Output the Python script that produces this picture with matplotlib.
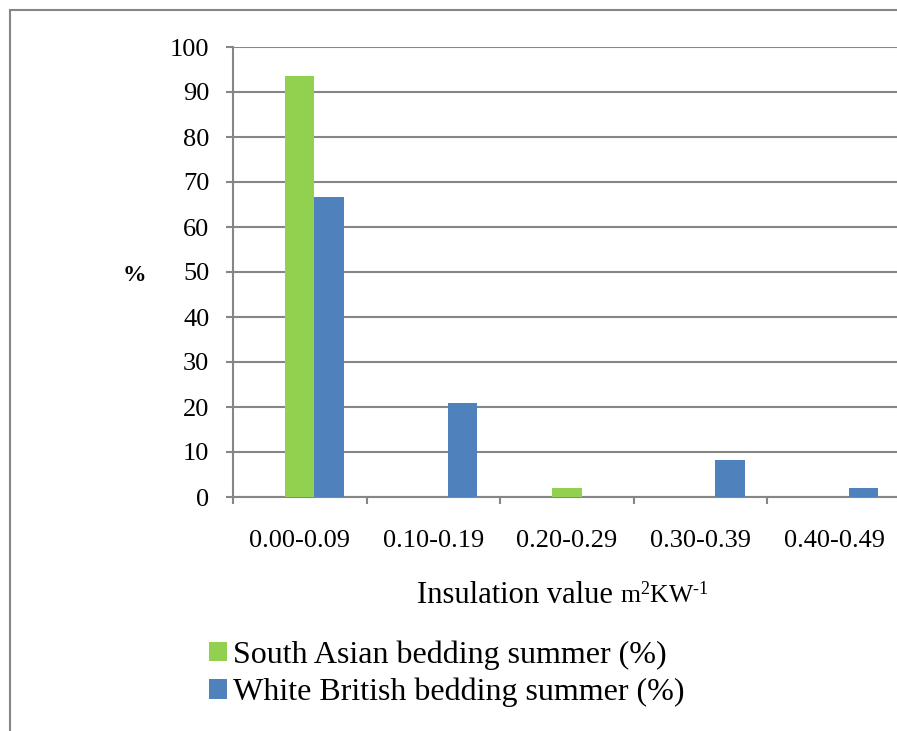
import matplotlib
matplotlib.use('Agg')
import matplotlib.pyplot as plt
from matplotlib.patches import Rectangle, Patch
import numpy as np

categories = ['0.00-0.09', '0.10-0.19', '0.20-0.29', '0.30-0.39', '0.40-0.49']
south_asian = [93.6, 0, 2.0, 0, 0]
white_british = [66.7, 20.8, 0, 8.3, 2.1]
series_names = ['South Asian bedding summer (%)', 'White British bedding summer (%)']
y_ticks = list(range(0, 101, 10))

green = '#92D050'
blue = '#4F81BD'
grey = '#868686'

plt.rcParams['font.family'] = ['Liberation Serif', 'DejaVu Serif']
plt.rcParams['mathtext.fontset'] = 'custom'
plt.rcParams['mathtext.rm'] = 'Liberation Serif'
plt.rcParams['mathtext.it'] = 'Liberation Serif:italic'

W, H = 897, 731
fig = plt.figure(figsize=(W / 100, H / 100), dpi=100)

# outer frame of the chart area (runs off the right / bottom of the image)
fig.patches.append(Rectangle((10 / W, -0.1), 1.2, 1 - 10 / H + 0.1, transform=fig.transFigure,
                             fill=False, edgecolor=grey, linewidth=1.5))

ax = fig.add_axes([233 / W, 1 - 497 / H, (901 - 233) / W, 450 / H])
x = np.arange(len(categories))
w = 0.22
# green sits on the category centre, blue just to its right (as in the source)
ax.bar(x, south_asian, w, color=green, zorder=3)
ax.bar(x + w, white_british, w, color=blue, zorder=3)

ax.set_xlim(-0.5, len(categories) - 0.5)
ax.set_ylim(0, 100)
ax.set_yticks(y_ticks)
ax.tick_params(axis='y', labelsize=19, length=5, width=1.5, color=grey, pad=12)
ax.yaxis.grid(True, color=grey, linewidth=1.5, zorder=0)

ax.set_xticks(np.arange(-0.5, len(categories)))
ax.set_xticklabels([])
ax.set_xticks(x, minor=True)
ax.set_xticklabels(categories, minor=True)
ax.tick_params(axis='x', which='major', length=5, width=1.5, color=grey)
ax.tick_params(axis='x', which='minor', length=0, labelsize=19, pad=24)

for s in ['top', 'right']:
    ax.spines[s].set_visible(False)
for s in ['left', 'bottom']:
    ax.spines[s].set_color(grey)
    ax.spines[s].set_linewidth(1.5)

fig.text(134 / W, 1 - 276 / H, '%', fontsize=17, fontweight='bold', ha='center', va='center')

# x axis title: large text followed by smaller unit
t1 = fig.text(417 / W, 1 - 603 / H, 'Insulation value ', fontsize=22, ha='left', va='baseline')
fig.canvas.draw()
bb = t1.get_window_extent()
fig.text(bb.x1 / W, 1 - 603 / H, r'm$^{2}$KW$^{\mathrm{‐}1}$', fontsize=18.5, ha='left', va='baseline')

handles = [Patch(facecolor=green), Patch(facecolor=blue)]
fig.legend(handles, series_names, loc='upper left', bbox_to_anchor=(209 / W, 1 - 640 / H),
           frameon=False, fontsize=23, handlelength=0.55, handleheight=0.55,
           handletextpad=0.2, labelspacing=0.26, borderaxespad=0, borderpad=0)

fig.savefig('out.png', dpi=100)
